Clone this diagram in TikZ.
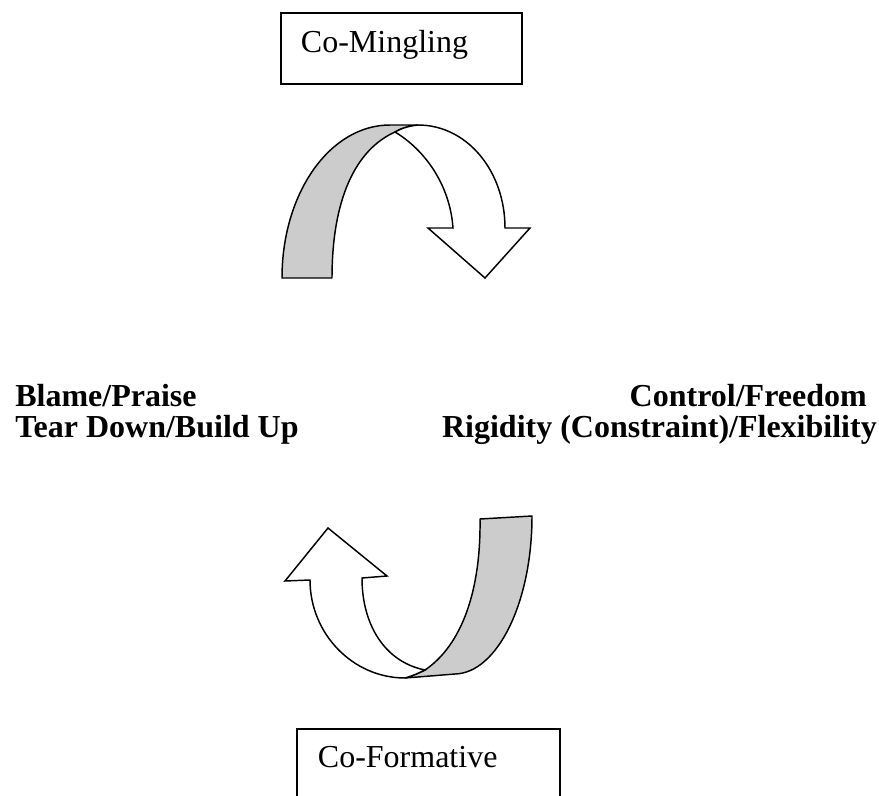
\documentclass[tikz,border=0pt]{standalone}
\usepackage{fontspec}
\setmainfont{Liberation Serif}
\usetikzlibrary{positioning}
\tikzset{
    labelbox/.style={rectangle, draw=black, line width=1.4pt, align=left, text height=16.5pt, font=\fontsize{24pt}{28pt}\selectfont},
    boldlabel/.style={inner sep=0pt, font=\fontsize{24pt}{28pt}\selectfont\bfseries},
    backband/.style={draw=black, line width=1.1pt, line join=round, fill=black!20},
    frontband/.style={draw=black, line width=1.1pt, line join=miter, fill=white}
}
\begin{document}
\begin{tikzpicture}[x=0.75pt, y=-0.75pt]

    \useasboundingbox (0,0) rectangle (879,796);
    \clip (0,0) rectangle (879,796);

    % Boxes
    \node (mingling) [labelbox, anchor=north west, inner xsep=15pt, inner ysep=13.5pt, text width=150.75pt, text depth=9.75pt] at (280,12) {Co-Mingling};
    \node (formative) [labelbox, anchor=north west, inner xsep=15.75pt, inner ysep=12.75pt, text width=165.75pt, text depth=11.25pt] at (296,728) {Co-Formative};

    % Labels
    \node (blame) [boldlabel, anchor=base west] at (15,406) {Blame/Praise};
    \node (teardown) [boldlabel, anchor=base west] at (15,437) {Tear Down/Build Up};
    \node (control) [boldlabel, anchor=base east] at (867,406) {Control/Freedom};
    \node (rigidity) [boldlabel, anchor=base east] at (877,437) {Rigidity (Constraint)/Flexibility};

    % Upper arrow
    \draw [backband] (282,278) .. controls (282,193) and (330,125) .. (390,125) -- (418,125)
        .. controls (408,126) and (400,129) .. (395,132)
        .. controls (355,150) and (332,200) .. (332,278) -- cycle;
    \draw [frontband] (395,132) .. controls (425,150) and (450,185) .. (453,228) -- (428,228) -- (485,278) -- (530,228) -- (505,228)
        .. controls (505,171) and (467,125) .. (418,125)
        .. controls (408,126) and (400,129) .. (395,132) -- cycle;

    % Lower arrow
    \draw [backband] (480,519) -- (532,516) .. controls (532,603) and (497,673) .. (455,674) -- (405,678)
        .. controls (412,676) and (419,673) .. (425,670)
        .. controls (462,645) and (481,590) .. (480,519) -- cycle;
    \draw [frontband] (425,670) .. controls (385,662) and (362,625) .. (362,578) -- (387,576) -- (328,528) -- (285,581) -- (310,580)
        .. controls (310,634) and (353,678) .. (405,678)
        .. controls (412,676) and (419,673) .. (425,670) -- cycle;

\end{tikzpicture}
\end{document}
